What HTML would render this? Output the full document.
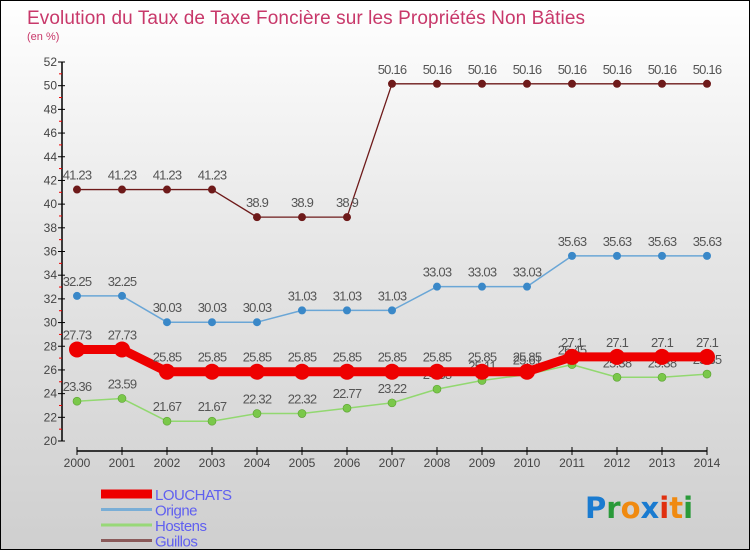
<!DOCTYPE html>
<html><head><meta charset="utf-8">
<style>
html,body{margin:0;padding:0;}
body{width:750px;height:550px;overflow:hidden;font-family:"Liberation Sans",sans-serif;}
#wrap{position:relative;width:748px;height:548px;border:1px solid #000;background:linear-gradient(#ffffff 0%,#e6e6e6 45%,#cfcfcf 100%);}
</style></head>
<body>
<div id="wrap">
<svg id="chart" width="748" height="548" style="position:absolute;left:0;top:0">
<text x="26" y="23" font-size="19" fill="#c8386a" textLength="558">Evolution du Taux de Taxe Foncière sur les Propriétés Non Bâties</text>
<text x="26" y="39" font-size="11" fill="#c8386a">(en %)</text>
<g id="axes"></g>
<g id="series"></g>
<g id="legend"></g>
<text x="584" y="517" font-size="29" font-weight="bold" font-family="'DejaVu Sans',sans-serif"><tspan fill="#1a7bd0">P</tspan><tspan fill="#2a9a3a">r</tspan><tspan fill="#f08a10">o</tspan><tspan fill="#1a7bd0">x</tspan><tspan fill="#e03010">i</tspan><tspan fill="#f08a10">t</tspan><tspan fill="#2a9a3a">i</tspan></text>
</svg>
</div>
<script>
const years=["2000","2001","2002","2003","2004","2005","2006","2007","2008","2009","2010","2011","2012","2013","2014"];
const louchats=[27.73,27.73,25.85,25.85,25.85,25.85,25.85,25.85,25.85,25.85,25.85,27.1,27.1,27.1,27.1];
const origne=[32.25,32.25,30.03,30.03,30.03,31.03,31.03,31.03,33.03,33.03,33.03,35.63,35.63,35.63,35.63];
const hostens=[23.36,23.59,21.67,21.67,22.32,22.32,22.77,23.22,24.38,25.11,25.61,26.45,25.38,25.38,25.65];
const guillos=[41.23,41.23,41.23,41.23,38.9,38.9,38.9,50.16,50.16,50.16,50.16,50.16,50.16,50.16,50.16];
const yTicks=[20,22,24,26,28,30,32,34,36,38,40,42,44,46,48,50,52];
const yMin=20,yMax=52;
const NS="http://www.w3.org/2000/svg";
function x(i){return 76+i*(630/(years.length-1));}
function y(v){return 440-(v-yMin)*(379/(yMax-yMin));}
function mk(tag,attrs,parent){const e=document.createElementNS(NS,tag);for(const k in attrs)e.setAttribute(k,attrs[k]);parent.appendChild(e);return e;}
const axes=document.getElementById('axes');
let a=mk('line',{x1:61,y1:y(yMax),x2:61,y2:y(yMin),stroke:'#000','stroke-width':1.5},axes);


yTicks.forEach(v=>{
 let t=mk('line',{x1:57,y1:y(v),x2:64,y2:y(v),stroke:'#000'},axes);
 
 
 if(v<yMax){mk('line',{x1:58,y1:y(v+1),x2:61,y2:y(v+1),stroke:'#e00'},axes);}
 let l=mk('text',{x:56,y:y(v)+4,'text-anchor':'end','font-size':12,fill:'#444'},axes);
 l.textContent=v;
 
 
});
let xa=mk('line',{x1:x(0),y1:450,x2:x(years.length-1),y2:450,stroke:'#000','stroke-width':1.5},axes);


years.forEach((yr,i)=>{
 mk('line',{x1:x(i),y1:446,x2:x(i),y2:454,stroke:'#000'},axes);
 let l=mk('text',{x:x(i),y:466,'text-anchor':'middle','font-size':12,fill:'#444'},axes);
 l.textContent=yr;
 
 
});
const series=[
 {name:'guillos',data:guillos,color:'#6e1a1a',w:1.3,r:4},
 {name:'origne',data:origne,color:'#6aa6d6',dot:'#3a88c8',w:1.5,r:4},
 {name:'hostens',data:hostens,color:'#92d870',dot:'#7ac84a',w:1.5,r:4},
 {name:'louchats',data:louchats,color:'#ee0000',w:9,r:8}
];
const sg=document.getElementById('series');
series.forEach(s=>{
 const g=mk('g',{},sg);
 
 
 const p=mk('polyline',{points:s.data.map((v,i)=>x(i)+','+y(v)).join(' '),fill:'none',stroke:s.color,'stroke-width':s.w,'stroke-linejoin':'round'},g);
 
 
 s.data.forEach((v,i)=>{
  const c=mk('circle',{cx:x(i),cy:y(v),r:s.r,fill:s.dot||s.color,stroke:s.name==='hostens'?'#5aa030':'none','stroke-width':0.6},g);
  
  
  const t=mk('text',{x:x(i),y:y(v)-10,'text-anchor':'middle','font-size':13,fill:'#555','letter-spacing':'-0.8'},g);
  t.textContent=String(v);
  
  
 });
});
const lg=document.getElementById('legend');
const leg=[['LOUCHATS','#ee0000',9],['Origne','#7aaed6',3],['Hostens','#98d878',3],['Guillos','#8a5a5a',3]];
leg.forEach((e,i)=>{
 const yy=493+i*15.5;
 const l=mk('line',{x1:100,y1:yy,x2:151,y2:yy,stroke:e[1],'stroke-width':e[2]},lg);
 
 
 const t=mk('text',{x:154,y:yy+6,'font-size':15,fill:'#6060f0','letter-spacing':'-0.5'},lg);
 t.textContent=e[0];
 
 
});
</script>
</body></html>
